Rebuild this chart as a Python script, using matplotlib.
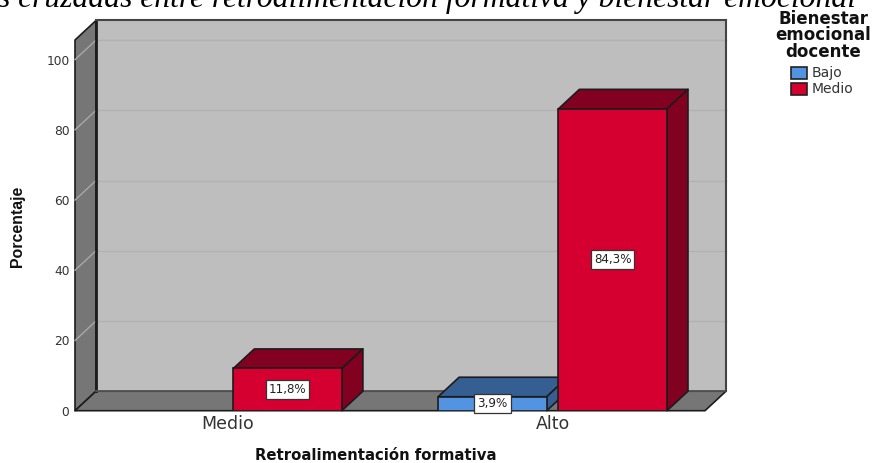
import matplotlib
matplotlib.use('Agg')
import matplotlib.pyplot as plt
from matplotlib.patches import Polygon

# Data
categories = ['Medio', 'Alto']
bajo = [0, 3.9]
medio = [11.8, 84.3]
bar_labels_bajo = ['', '3,9%']
bar_labels_medio = ['11,8%', '84,3%']
y_ticks = [0, 20, 40, 60, 80, 100]

W, H = 874, 463
fig = plt.figure(figsize=(W / 100, H / 100), dpi=100)
fig.patch.set_facecolor('white')

# front plane of the 3D box, pixels from the reference
left, right, top, bottom = 75, 705, 40, 410.7
ax = fig.add_axes([left / W, 1 - bottom / H, (right - left) / W, (bottom - top) / H])
ax.set_xlim(-0.469, 1.469)
ax.set_ylim(0, 105.6)
ax.patch.set_visible(False)
for s in ax.spines.values():
    s.set_visible(False)

# depth of the box in data units
dx = 21 / 325
dy = 19.5 / 3.51
x0, x1 = ax.get_xlim()
y0, y1 = ax.get_ylim()
edge = '#1c1c1c'

# the reference draws its bars a bit taller than its own axis says
bar_scale = 1.02


def poly(pts, fc, ec=edge, lw=1.2, z=1):
    ax.add_patch(Polygon(pts, closed=True, facecolor=fc, edgecolor=ec, linewidth=lw,
                         zorder=z, clip_on=False, joinstyle='round'))


# walls
poly([(x0 + dx, y0 + dy), (x1 + dx, y0 + dy), (x1 + dx, y1 + dy), (x0 + dx, y1 + dy)], '#bebebe',
     ec='none', z=1)
poly([(x0, y0), (x0 + dx, y0 + dy), (x0 + dx, y1 + dy), (x0, y1)], '#767676', z=1)
poly([(x0, y0), (x1, y0), (x1 + dx, y0 + dy), (x0 + dx, y0 + dy)], '#767676', z=1)

# gridlines on the back wall and the side wall
for t in y_ticks[1:]:
    ax.plot([x0 + dx, x1 + dx], [t + dy, t + dy], color='#b2b2b2', lw=1, zorder=2, clip_on=False)
    ax.plot([x0, x0 + dx], [t, t + dy], color='#a8a8a8', lw=1, zorder=2, clip_on=False)
ax.plot([x0 + dx, x0 + dx], [y0 + dy, y1 + dy], color=edge, lw=2, zorder=2.5, clip_on=False)
ax.plot([x0 + dx, x1 + dx], [y0 + dy, y0 + dy], color='#5a5a5a', lw=1.2, zorder=2.5, clip_on=False)
ax.plot([x0 + dx, x1 + dx], [y1 + dy, y1 + dy], color='#444444', lw=1.5, zorder=2.5, clip_on=False)
ax.plot([x1 + dx, x1 + dx], [y0 + dy, y1 + dy], color='#444444', lw=1.5, zorder=2.5, clip_on=False)

width = 0.334
offset = 0.185


def bar3d(xc, val, front, dark, side, z):
    h = val * bar_scale
    xa, xb = xc - width / 2, xc + width / 2
    poly([(xa, h), (xb, h), (xb + dx, h + dy), (xa + dx, h + dy)], dark, z=z)
    poly([(xb, 0), (xb + dx, dy), (xb + dx, h + dy), (xb, h)], side, z=z)
    ax.bar(xc, h, width=width, color=front, edgecolor=edge, linewidth=1.2, zorder=z + 0.1)


def bar_label(xc, val, txt):
    ax.text(xc, val * bar_scale / 2, txt, ha='center', va='center', fontsize=8.6, color='#222222',
            family='DejaVu Sans', zorder=10,
            bbox=dict(boxstyle='square,pad=0.25', fc='white', ec='#333333', lw=0.9))


for i in range(len(categories)):
    if bajo[i] > 0:
        bar3d(i - offset, bajo[i], '#5294e2', '#355f93', '#355f93', 3)
        bar_label(i - offset, bajo[i], bar_labels_bajo[i])
    bar3d(i + offset, medio[i], '#d5002f', '#820020', '#820020', 5)
    bar_label(i + offset, medio[i], bar_labels_medio[i])

ax.set_xticks(range(len(categories)))
ax.set_xticklabels(categories, fontsize=12.5, color='#333333', family='DejaVu Sans')
ax.set_yticks(y_ticks)
ax.set_yticklabels([str(t) for t in y_ticks], fontsize=8.8, color='#333333', family='DejaVu Sans')
ax.tick_params(axis='y', length=0, pad=4)
ax.tick_params(axis='x', length=0, pad=3)

# axis titles
fig.text(376 / W, 1 - 456 / H, 'Retroalimentación formativa', ha='center', va='center',
         fontsize=10.7, fontweight='bold', family='DejaVu Sans', color='#111111')
fig.text(18 / W, 1 - 226 / H, 'Porcentaje', ha='center', va='center', rotation=90,
         fontsize=11.4, fontweight='bold', family='Liberation Sans', color='#111111')

# title, cut by the top of the picture in the reference
fig.text(-2 / W, 1 - 7 / H, 's cruzadas entre retroalimentación formativa y bienestar emocional',
         ha='left', va='baseline', fontsize=22.8, style='italic', family='Liberation Serif',
         color='black')

# legend
fig.text(823.5 / W, 1 - 35.5 / H, 'Bienestar\nemocional\ndocente', ha='center', va='center',
         fontsize=12, fontweight='bold', family='DejaVu Sans', linespacing=0.92, color='#111111')
for label, col, y in [('Bajo', '#5294e2', 73), ('Medio', '#d5002f', 89)]:
    fig.patches.append(plt.Rectangle((791 / W, 1 - (y + 6) / H), 16 / W, 12 / H,
                                     transform=fig.transFigure, facecolor=col,
                                     edgecolor='#222222', linewidth=1.2))
    fig.text(812 / W, 1 - y / H, label, ha='left', va='center', fontsize=10,
             family='DejaVu Sans', color='#333333')

fig.savefig('out.png', dpi=100)
